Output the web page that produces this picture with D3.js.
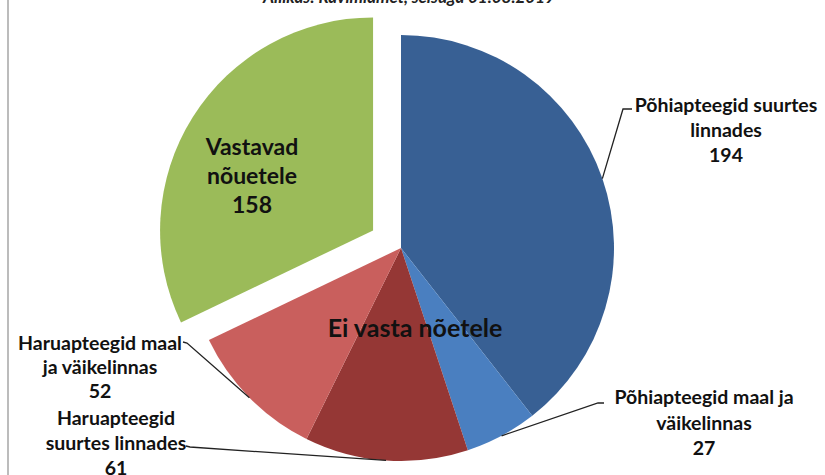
<!DOCTYPE html>
<html><head><meta charset="utf-8">
<script src="https://cdn.jsdelivr.net/npm/d3@7"></script>
<style>html,body{margin:0;padding:0;background:#fff;} svg{display:block;}</style>
</head><body>
<script>
const categories = ["Põhiapteegid suurtes linnades","Põhiapteegid maal ja väikelinnas","Haruapteegid suurtes linnades","Haruapteegid maal ja väikelinnas","Vastavad nõuetele"];
const values = [194, 27, 61, 52, 158];
const labelLines = [["Põhiapteegid suurtes","linnades","194"],["Põhiapteegid maal ja","väikelinnas","27"],["Haruapteegid","suurtes linnades","61"],["Haruapteegid maal","ja väikelinnas","52"],["Vastavad","nõuetele","158"]];
const colors = ["#386094","#4a7fc0","#953735","#c95f5d","#9bbb59"];
const titleText = "Allikas: Ravimiamet, seisuga 01.08.2019";
const groupText = "Ei vasta nõetele";

const W = 825, H = 475;
const svg = d3.select("body").append("svg").attr("width", W).attr("height", H);
svg.append("line").attr("x1", 8).attr("x2", 8).attr("y1", 0).attr("y2", H).attr("stroke", "#a6a6a6").attr("stroke-width", 1.5);

const font = "Lato, 'Open Sans', sans-serif";
svg.append("text").attr("x", 409).attr("y", 3).attr("text-anchor", "middle")
  .attr("font-family", font).attr("font-size", 17).attr("font-weight", 700).attr("font-style", "italic")
  .attr("fill", "#222").text(titleText);

const cx = 401, cy = 248, R = 213;
const pie = d3.pie().sort(null).value(d => d)(values);
const arc = d3.arc().innerRadius(0).outerRadius(R);
const explode = [0, 0, 0, 0, 33];
const g = svg.append("g").attr("transform", `translate(${cx},${cy})`);
pie.forEach((p, i) => {
  const mid = (p.startAngle + p.endAngle) / 2;
  const dx = Math.sin(mid) * explode[i], dy = -Math.cos(mid) * explode[i];
  g.append("path").attr("d", arc(p)).attr("fill", colors[i]).attr("transform", `translate(${dx},${dy})`);
});

// leader lines: from slice edge at mid-angle to label
const elbows = [[[623,109],[632,109]],[[598,403],[604,403]],[[190,447],[186,446]],[[187,343],[183,342]],null];
pie.forEach((p, i) => {
  if (!elbows[i]) return;
  const mid = (p.startAngle + p.endAngle) / 2;
  const ax = cx + Math.sin(mid) * R, ay = cy - Math.cos(mid) * R;
  const pts = [[ax, ay]].concat(elbows[i]);
  svg.append("path").attr("d", d3.line()(pts)).attr("fill", "none").attr("stroke", "#222").attr("stroke-width", 1.3);
});

const labelPos = [[726,112,25],[704,404,25.5],[116,425,25],[100,350,24],[252,155,29]];
const labelSize = [19.5, 19.5, 19.5, 19.5, 23];
labelLines.forEach((lines, i) => {
  const t = svg.append("text").attr("text-anchor", "middle").attr("font-family", font)
    .attr("font-weight", 700).attr("font-size", labelSize[i]).attr("fill", "#111");
  lines.forEach((s, j) => {
    t.append("tspan").attr("x", labelPos[i][0]).attr("y", labelPos[i][1] + j * labelPos[i][2]).text(s);
  });
});

svg.append("text").attr("x", 415).attr("y", 337).attr("text-anchor", "middle").attr("font-family", font)
  .attr("font-weight", 700).attr("font-size", 25).attr("fill", "#111").text(groupText);
</script>
</body></html>
